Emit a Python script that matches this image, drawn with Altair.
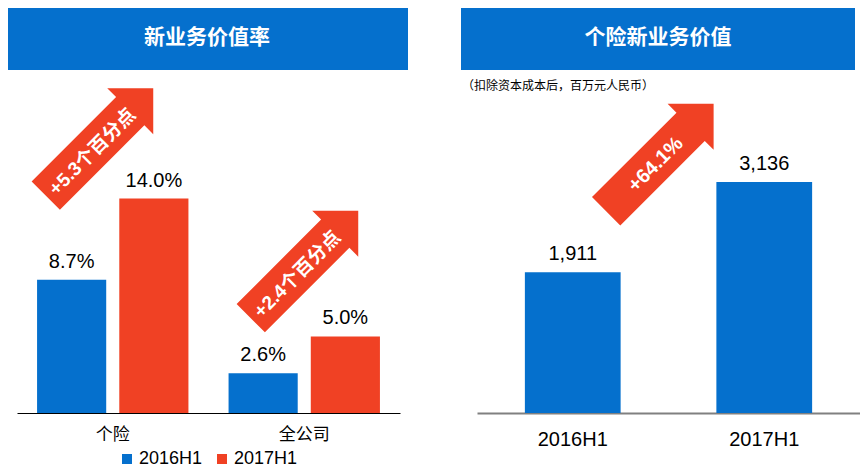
import altair as alt
import pandas as pd

# ---------------- data ----------------
left_title = "新业务价值率"
left_categories = ["个险", "全公司"]
series = ["2016H1", "2017H1"]
margin_2016 = [8.7, 2.6]
margin_2017 = [14.0, 5.0]
left_arrow_labels = ["+5.3个百分点", "+2.4个百分点"]
left_arrow_levels = [17.7, 9.7]      # arrow centre, in % units

right_title = "个险新业务价值"
right_subtitle = "（扣除资本成本后，百万元人民币）"
right_periods = ["2016H1", "2017H1"]
right_values = [1911, 3136]
right_arrow_label = "+64.1%"
right_arrow_period = "2017H1"
right_arrow_level = 3467

BLUE = "#0570cd"
RED = "#f04124"
LATIN = "Liberation Sans, Arial, Noto Sans CJK SC"
CJK = "Noto Sans CJK SC"

ARROW = "M -1 -0.263 L 0.572 -0.263 L 0.572 -0.428 L 1 0 L 0.572 0.428 L 0.572 0.263 L -1 0.263 Z"
ARROW_SIZE = 23104

W, H = 383, 405

# ---------------- left panel ----------------
rows = []
for i, c in enumerate(left_categories):
    rows.append({"category": c, "series": series[0], "value": margin_2016[i]})
    rows.append({"category": c, "series": series[1], "value": margin_2017[i]})
left_df = pd.DataFrame(rows)
left_df["label"] = left_df["value"].map(lambda v: f"{v:.1f}%")

lx = alt.X("category:N", sort=left_categories,
           scale=alt.Scale(paddingInner=0, paddingOuter=0),
           axis=alt.Axis(title=None, labelAngle=0, ticks=False, domainColor="#000000",
                         domainWidth=1, labelFont=CJK, labelFontSize=17,
                         labelColor="#000000", labelPadding=13))
lxo = alt.XOffset("series:N", sort=series,
                  scale=alt.Scale(paddingInner=0.159, paddingOuter=0.244))
ly = alt.Y("value:Q", scale=alt.Scale(domain=[0, 26.44]), axis=None)

left_base = alt.Chart(left_df)
left_bars = left_base.mark_bar().encode(
    x=lx, xOffset=lxo, y=ly,
    color=alt.Color("series:N", sort=series,
                    scale=alt.Scale(domain=series, range=[BLUE, RED]),
                    legend=alt.Legend(title=None, orient="none", legendX=101, legendY=442,
                                      direction="horizontal", symbolType="square",
                                      symbolSize=100, symbolStrokeWidth=0,
                                      labelFont=LATIN, labelFontSize=18,
                                      labelColor="#000000", labelOffset=3,
                                      columnPadding=10, padding=0)),
)
left_labels = left_base.mark_text(dy=-8, baseline="bottom", fontSize=20, font=LATIN,
                                  color="#000000").encode(
    x=lx, xOffset=lxo, y=ly, text="label:N")

banner_l = pd.DataFrame({"t": [left_title]})
left_banner = alt.Chart(banner_l).mark_rect(color=BLUE).encode(
    x=alt.value(-9), x2=alt.value(391), y=alt.value(0), y2=alt.value(62))
left_banner_text = alt.Chart(banner_l).mark_text(
    color="white", fontSize=21, fontWeight="bold", font=CJK).encode(
    x=alt.value(190), y=alt.value(30), text="t:N")

left_arrow_layers = []
arrow_shift = [82.5, 96.0]   # from the band's left edge
for i in range(2):
    adf = pd.DataFrame({"category": [left_categories[i]],
                        "value": [left_arrow_levels[i]],
                        "label": [left_arrow_labels[i]]})
    ax_ = alt.X("category:N", sort=left_categories)
    arrow = alt.Chart(adf).mark_point(shape=ARROW, size=ARROW_SIZE, angle=315,
                                      filled=True, color=RED, opacity=1,
                                      strokeWidth=0).encode(
        x=ax_, y=ly, xOffset=alt.value(arrow_shift[i]))
    txt = alt.Chart(adf).mark_text(angle=315, dx=-12, dy=2, fontSize=19,
                                   fontWeight="bold", font=LATIN, color="white",
                                   align="center", baseline="middle").encode(
        x=ax_, y=ly, xOffset=alt.value(arrow_shift[i]), text="label:N")
    left_arrow_layers += [arrow, txt]

left = alt.layer(left_banner, left_banner_text, left_bars, left_labels,
                 *left_arrow_layers).properties(width=W, height=H)

# ---------------- right panel ----------------
right_df = pd.DataFrame({"period": right_periods, "value": right_values})
rx = alt.X("period:N", sort=right_periods,
           scale=alt.Scale(paddingInner=0.5, paddingOuter=0.25),
           axis=alt.Axis(title=None, labelAngle=0, ticks=False, domainColor="#808080",
                         domainWidth=2, labelFont=LATIN, labelFontSize=20,
                         labelColor="#000000", labelPadding=16))
ry = alt.Y("value:Q", scale=alt.Scale(domain=[0, 5496]), axis=None)

right_bars = alt.Chart(right_df).mark_bar(color=BLUE).encode(x=rx, y=ry)
right_labels = alt.Chart(right_df).mark_text(dy=-8, baseline="bottom", fontSize=20,
                                             font=LATIN, color="#000000").encode(
    x=rx, y=ry, text=alt.Text("value:Q", format=",.0f"))

banner_r = pd.DataFrame({"t": [right_title], "s": [right_subtitle]})
right_banner = alt.Chart(banner_r).mark_rect(color=BLUE).encode(
    x=alt.value(-16), x2=alt.value(378), y=alt.value(0), y2=alt.value(62))
right_banner_text = alt.Chart(banner_r).mark_text(
    color="white", fontSize=21, fontWeight="bold", font=CJK).encode(
    x=alt.value(181), y=alt.value(30), text="t:N")
right_sub = alt.Chart(banner_r).mark_text(
    align="left", baseline="middle", fontSize=12, font=CJK, color="#000000").encode(
    x=alt.value(-15), y=alt.value(78), text="s:N")

radf = pd.DataFrame({"period": [right_arrow_period], "value": [right_arrow_level],
                     "label": [right_arrow_label]})
rax = alt.X("period:N", sort=right_periods)
right_arrow = alt.Chart(radf).mark_point(shape=ARROW, size=ARROW_SIZE, angle=315,
                                         filled=True, color=RED, opacity=1,
                                         strokeWidth=0).encode(
    x=rax, y=ry, xOffset=alt.value(-56.5))
right_arrow_text = alt.Chart(radf).mark_text(angle=315, dx=-8, dy=2, fontSize=20,
                                             fontWeight="bold", font=LATIN, color="white",
                                             align="center", baseline="middle").encode(
    x=rax, y=ry, xOffset=alt.value(-56.5), text="label:N")

right = alt.layer(right_banner, right_banner_text, right_sub, right_bars, right_labels,
                  right_arrow, right_arrow_text).properties(width=W, height=H)

chart = alt.hconcat(left, right, spacing=53).properties(
    padding=0, background="white").configure_view(stroke=None)

chart.save("out.html", embed_options={"renderer": "svg", "actions": False})
